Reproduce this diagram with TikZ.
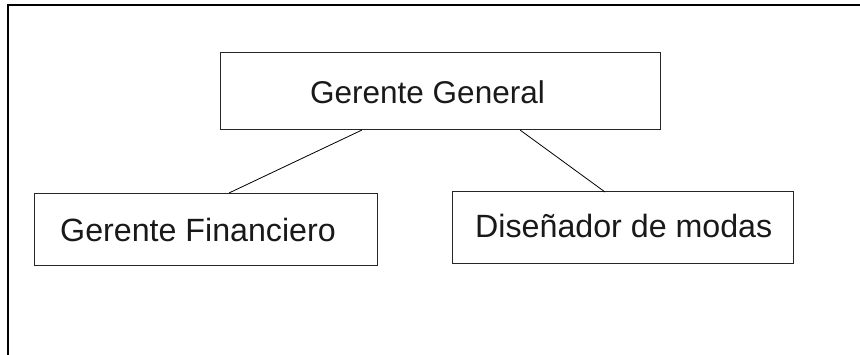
\documentclass[tikz,border=0pt]{standalone}
\usepackage{fontspec}
\setmainfont{Liberation Sans}
\begin{document}
\begin{tikzpicture}[x=1pt,y=1pt,
  box/.style={draw=black!85,line width=1pt,rectangle},
  lbl/.style={anchor=base west,inner sep=0pt,font=\fontsize{31.5}{36}\selectfont,text=black!90},
  lblb/.style={lbl,font=\fontsize{32.2}{36}\selectfont},
  conn/.style={draw=black,line width=0.8pt}]
\useasboundingbox (0,0) rectangle (860,355);
% outer frame (cut at right and bottom)
\draw[line width=1.3pt] (8,0) -- (8,350) -- (860,350);
% boxes
\draw[box] (220,225) rectangle (660,302);
\draw[box] (34,89) rectangle (377,161);
\draw[box] (452,91) rectangle (793,163);
% labels
\node[lbl] (gg) at (310,251) {Gerente General};
\node[lblb] (gf) at (60,113) {Gerente Financiero};
\node[lblb] (dm) at (475,117) {Diseñador de modas};
% connector anchor points on box edges
\coordinate (gga) at (362,225);
\coordinate (ggb) at (520,225);
\coordinate (gft) at (229,162);
\coordinate (dmt) at (605,163);
\draw[conn] (gga) -- (gft);
\draw[conn] (ggb) -- (dmt);
\end{tikzpicture}
\end{document}
